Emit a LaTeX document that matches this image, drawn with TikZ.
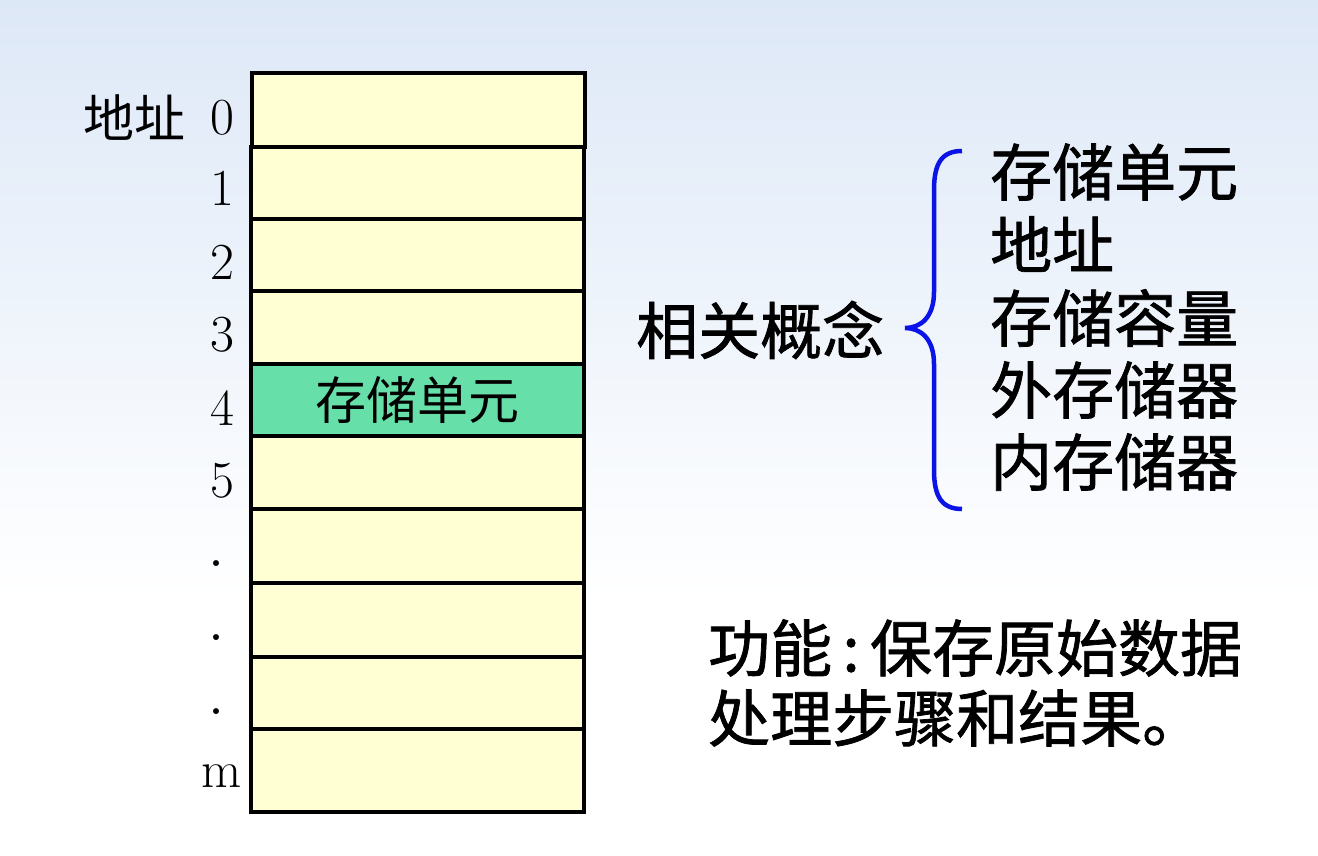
\documentclass[tikz,border=0pt]{standalone}
\usepackage{fontspec}
\usepackage{tikz}
\newfontfamily\cjk{Noto Sans CJK SC}
\newfontfamily\cjkb{Noto Sans CJK SC}[FakeBold=1.2]
\definecolor{bgblue}{HTML}{DDE8F7}
\definecolor{cellyellow}{HTML}{FFFFD3}
\definecolor{cellgreen}{HTML}{66DFA9}
\definecolor{bracecol}{HTML}{0A14E6}

\begin{document}
\begin{tikzpicture}
[every node/.style={inner sep=0pt},
 cell/.style={rectangle, minimum width=333pt, draw=black, line width=3.6pt, fill=cellyellow},
 addr/.style={font=\fontsize{52}{60}\selectfont},
 dotaddr/.style={font=\fontsize{72}{72}\selectfont},
 term/.style={anchor=west, font=\cjkb\fontsize{62}{72}\selectfont}]
\useasboundingbox (0pt, 0pt) rectangle (1318pt, -856pt);
\shade [top color=bgblue, bottom color=white] (0pt, 0pt) rectangle (1318pt, -600pt);
\node (cell0) [cell, minimum height=74pt] at (418.5pt, -110pt) {};
\node (cell1) [cell, minimum height=72pt] at (417.5pt, -183pt) {};
\node (cell2) [cell, minimum height=72pt] at (417.5pt, -255pt) {};
\node (cell3) [cell, minimum height=73pt] at (417.5pt, -327.5pt) {};
\node (cell4) [cell, minimum height=72pt, fill=cellgreen] at (417.5pt, -400pt) {\cjk\fontsize{51}{60}\selectfont 存储单元};
\node (cell5) [cell, minimum height=73pt] at (417.5pt, -472.5pt) {};
\node (cell6) [cell, minimum height=74pt] at (417.5pt, -546pt) {};
\node (cell7) [cell, minimum height=74pt] at (417.5pt, -620pt) {};
\node (cell8) [cell, minimum height=72pt] at (417.5pt, -693pt) {};
\node (cell9) [cell, minimum height=83pt] at (417.5pt, -770.5pt) {};
\node (a0) [addr] at (222pt, -118pt) {0};
\node (addrlabel) [font=\cjk\fontsize{51}{60}\selectfont, anchor=east] at (186pt, -118pt) {地址};
\node (a1) [addr] at (222pt, -188pt) {1};
\node (a2) [addr] at (222pt, -262pt) {2};
\node (a3) [addr] at (222pt, -335pt) {3};
\node (a4) [addr] at (222pt, -408pt) {4};
\node (a5) [addr] at (222pt, -481pt) {5};
\node (a6) [dotaddr] at (216pt, -564pt) {.};
\node (a7) [dotaddr] at (216pt, -638pt) {.};
\node (a8) [dotaddr] at (216pt, -712pt) {.};
\node (am) [addr] at (222pt, -776pt) {m};
\node (related) [term] at (636pt, -330pt) {相关概念};
\coordinate (btop) at (962pt, -151pt);
\coordinate (btip) at (905pt, -328pt);
\coordinate (bbot) at (962pt, -509pt);
\draw [line width=4.5pt, color=bracecol] (btop) .. controls (942pt, -151pt) and (934pt, -163pt) .. (934pt, -190pt)
  -- (934pt, -292pt) .. controls (934pt, -318pt) and (920pt, -328pt) .. (btip)
  .. controls (920pt, -328pt) and (934pt, -338pt) .. (934pt, -364pt)
  -- (934pt, -470pt) .. controls (934pt, -497pt) and (942pt, -509pt) .. (bbot);
\node (t1) [term] at (990pt, -172pt) {存储单元};
\node (t2) [term] at (990pt, -244pt) {地址};
\node (t3) [term] at (990pt, -318pt) {存储容量};
\node (t4) [term] at (990pt, -390pt) {外存储器};
\node (t5) [term] at (990pt, -462pt) {内存储器};
\node (func1) [term] at (708pt, -648pt) {功能\,:\,保存原始数据};
\node (func2) [term] at (708pt, -718pt) {处理步骤和结果。};
\end{tikzpicture}
\end{document}
